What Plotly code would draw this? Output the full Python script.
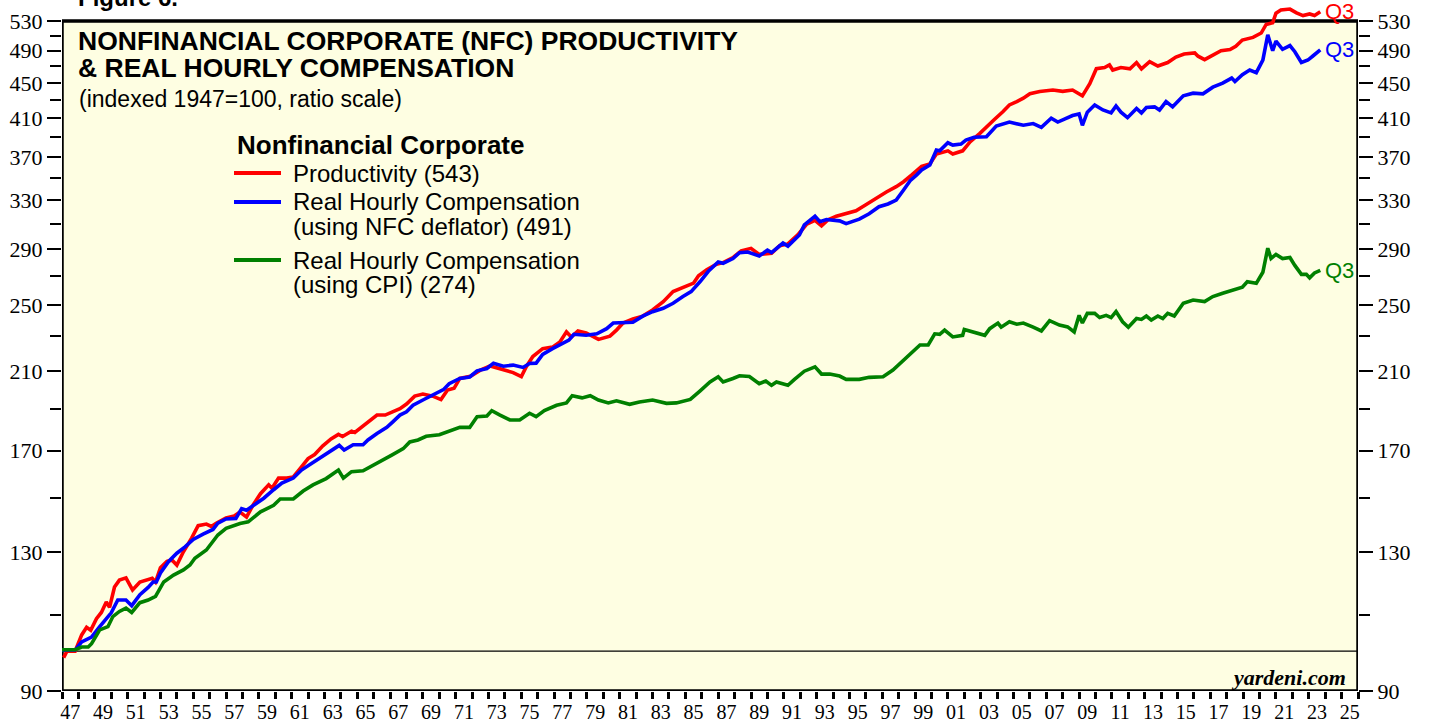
import numpy as np
import plotly.graph_objects as go

# ---------------- data (decimal year, index 1947=100) ----------------
prod_x = [1947.1, 1947.3, 1947.8, 1948.2, 1948.5, 1948.75, 1949.1, 1949.4, 1949.7, 1949.9,
          1950.2, 1950.5, 1950.9, 1951.3, 1951.75, 1952.05, 1952.5, 1952.7, 1953.0, 1953.4,
          1953.7, 1954.0, 1954.4, 1954.9, 1955.3, 1955.8, 1956.1, 1956.4, 1957.0, 1957.5,
          1957.85, 1958.25, 1958.65, 1959.1, 1959.6, 1959.8, 1960.2, 1960.7, 1961.1, 1961.5,
          1962.0, 1962.4, 1962.9, 1963.4, 1963.85, 1964.1, 1964.65, 1964.85, 1965.3, 1965.8,
          1966.2, 1966.7, 1967.2, 1967.6, 1968.0, 1968.5, 1969.0, 1969.6, 1970.1, 1970.5,
          1970.9, 1971.25, 1971.9, 1972.5, 1973.1, 1973.4, 1973.9, 1974.5, 1975.0, 1975.3,
          1975.7, 1976.3, 1976.9, 1977.35, 1977.75, 1978.05, 1978.45, 1978.95, 1979.7, 1980.4,
          1980.8, 1981.2, 1981.8, 1982.4, 1983.0, 1983.65, 1984.25, 1984.85, 1985.5, 1985.8,
          1986.3, 1986.9, 1987.3, 1987.9, 1988.4, 1989.0, 1989.5, 1990.25, 1990.75, 1991.25,
          1991.85, 1992.4, 1992.9, 1993.3, 1993.7, 1994.2, 1994.8, 1995.4, 1996.0, 1996.65,
          1997.25, 1997.85, 1998.3, 1998.8, 1999.4, 1999.9, 2000.3, 2001.0, 2001.3, 2001.9,
          2002.35, 2002.95, 2003.35, 2003.85, 2004.35, 2004.75, 2005.2, 2005.6, 2006.0, 2006.6,
          2007.4, 2008.0, 2008.6, 2009.2, 2009.65, 2010.05, 2010.55, 2010.85, 2011.05, 2011.55,
          2012.1, 2012.5, 2012.8, 2013.3, 2013.8, 2014.4, 2014.9, 2015.4, 2016.05, 2016.25,
          2016.65, 2017.25, 2017.65, 2018.2, 2018.55, 2018.95, 2019.6, 2020.1, 2020.4, 2020.8,
          2021.0, 2021.3, 2021.85, 2022.25, 2022.65, 2023.05, 2023.35, 2023.7]
prod_y = [98.3, 100.0, 100.0, 104.4, 106.5, 105.7, 109.0, 110.8, 113.9, 112.3,
          118.5, 120.7, 121.4, 117.6, 120.1, 120.7, 121.3, 120.1, 124.7, 126.8,
          127.3, 125.6, 130.1, 134.9, 139.4, 140.0, 139.1, 140.3, 142.3, 143.0,
          144.5, 142.6, 147.3, 151.7, 155.3, 153.9, 158.1, 158.1, 158.6, 162.0,
          166.5, 168.3, 172.2, 175.4, 177.5, 176.5, 179.0, 178.4, 181.1, 184.4,
          186.8, 186.8, 188.4, 190.0, 192.3, 196.4, 197.5, 196.4, 194.6, 199.6,
          200.5, 205.8, 207.0, 210.4, 212.7, 212.0, 210.4, 209.0, 206.8, 212.3,
          218.1, 222.7, 223.6, 226.6, 232.8, 229.7, 233.4, 232.2, 228.2, 230.2,
          233.9, 238.3, 240.9, 242.7, 246.7, 252.2, 259.0, 262.1, 264.9, 270.1,
          274.4, 278.4, 279.6, 283.4, 288.5, 290.4, 285.8, 286.6, 292.4, 293.8,
          300.9, 309.7, 312.8, 308.2, 313.2, 316.2, 318.5, 320.8, 325.9, 331.9,
          337.1, 341.9, 346.4, 352.7, 360.8, 363.0, 372.7, 375.9, 372.7, 375.9,
          384.9, 393.7, 399.8, 408.6, 416.9, 424.4, 428.2, 432.1, 437.2, 439.9,
          441.5, 440.0, 441.5, 434.8, 449.0, 467.1, 468.6, 471.8, 465.5, 468.6,
          467.0, 474.8, 467.0, 476.0, 470.5, 474.8, 481.7, 485.7, 487.0, 482.9,
          478.5, 484.9, 490.0, 491.4, 495.6, 504.0, 507.5, 513.4, 525.2, 527.6,
          541.0, 545.6, 547.0, 541.5, 537.7, 540.0, 537.7, 543.0]

nfc_x = [1947.0, 1947.8, 1948.2, 1948.8, 1949.3, 1949.8, 1950.0, 1950.4, 1950.9, 1951.25,
         1951.75, 1952.25, 1952.55, 1952.75, 1953.0, 1953.5, 1954.0, 1954.5, 1955.0, 1955.6,
         1956.2, 1956.5, 1957.0, 1957.6, 1957.95, 1958.25, 1958.75, 1959.3, 1959.9, 1960.4,
         1961.1, 1961.6, 1962.3, 1962.9, 1963.4, 1963.9, 1964.2, 1964.75, 1965.35, 1965.65,
         1966.2, 1966.8, 1967.1, 1967.6, 1968.0, 1968.4, 1969.0, 1969.6, 1970.25, 1970.6,
         1971.25, 1971.85, 1972.3, 1972.9, 1973.3, 1973.9, 1974.5, 1975.1, 1975.5, 1975.9,
         1976.3, 1976.9, 1977.5, 1977.9, 1978.2, 1978.95, 1979.6, 1980.2, 1980.6, 1981.2,
         1981.8, 1982.4, 1983.0, 1983.65, 1984.25, 1984.85, 1985.35, 1985.9, 1986.4, 1987.0,
         1987.3, 1987.9, 1988.3, 1988.8, 1989.5, 1990.0, 1990.25, 1990.95, 1991.25, 1991.95,
         1992.25, 1992.9, 1993.2, 1993.6, 1994.4, 1994.8, 1995.6, 1996.2, 1996.8, 1997.35,
         1997.85, 1998.3, 1998.7, 1999.1, 1999.4, 1999.9, 2000.3, 2000.5, 2001.0, 2001.3,
         2001.8, 2002.1, 2002.6, 2003.35, 2003.95, 2004.75, 2005.6, 2006.2, 2006.7, 2007.3,
         2007.7, 2008.6, 2009.0, 2009.2, 2009.5, 2009.95, 2010.45, 2010.95, 2011.25, 2011.55,
         2011.95, 2012.5, 2012.8, 2013.1, 2013.6, 2013.9, 2014.3, 2014.7, 2015.35, 2015.95,
         2016.55, 2017.15, 2017.75, 2018.3, 2018.5, 2018.95, 2019.4, 2019.8, 2020.2, 2020.5,
         2020.8, 2021.0, 2021.4, 2021.85, 2022.15, 2022.55, 2022.95, 2023.25, 2023.7]
nfc_y = [100.3, 100.3, 102.5, 103.8, 106.7, 109.6, 110.7, 114.5, 114.5, 112.8,
         116.1, 118.4, 120.1, 120.1, 123.0, 126.8, 129.6, 131.8, 134.4, 136.3,
         138.0, 140.3, 141.9, 142.1, 145.8, 145.2, 147.5, 149.9, 153.3, 156.0,
         158.1, 161.5, 164.8, 167.6, 170.0, 172.4, 170.3, 172.7, 172.7, 174.9,
         177.9, 180.8, 183.0, 186.8, 188.4, 191.7, 194.4, 196.9, 199.8, 203.0,
         205.8, 206.6, 210.0, 211.3, 214.3, 212.6, 213.2, 211.9, 214.1, 214.3,
         219.3, 222.7, 226.0, 227.8, 231.3, 230.7, 231.6, 234.8, 238.3, 238.3,
         238.8, 242.7, 245.6, 247.8, 251.1, 255.6, 259.0, 266.0, 273.3, 280.1,
         279.1, 282.7, 287.1, 287.6, 284.6, 289.0, 287.1, 294.5, 292.1, 300.9,
         309.0, 316.2, 311.6, 313.4, 312.3, 310.0, 313.7, 318.2, 324.2, 326.6,
         330.0, 338.9, 347.3, 352.7, 357.3, 362.0, 376.7, 376.0, 384.0, 381.6,
         382.6, 386.8, 389.6, 390.2, 401.3, 405.6, 402.2, 404.0, 400.0, 409.7,
         405.6, 412.7, 414.5, 402.2, 416.4, 424.4, 418.8, 415.6, 423.3, 416.4,
         410.4, 420.5, 415.6, 421.6, 422.3, 418.8, 428.2, 422.3, 434.8, 437.9,
         437.1, 444.9, 449.7, 455.7, 451.6, 459.8, 465.5, 462.3, 478.0, 511.0,
         489.9, 502.6, 491.7, 496.6, 488.6, 474.9, 478.0, 483.1, 491.0]

cpi_x = [1947.0, 1947.8, 1948.2, 1948.6, 1948.8, 1949.3, 1949.8, 1950.1, 1950.5, 1950.9,
         1951.25, 1951.75, 1952.25, 1952.7, 1953.2, 1953.8, 1954.4, 1954.8, 1955.1, 1955.8,
         1956.5, 1957.0, 1957.85, 1958.35, 1959.1, 1959.5, 1959.9, 1960.3, 1961.1, 1961.7,
         1962.3, 1963.1, 1963.85, 1964.15, 1964.65, 1965.35, 1965.95, 1966.6, 1967.1, 1967.8,
         1968.2, 1968.7, 1969.2, 1970.0, 1970.6, 1971.25, 1971.85, 1972.3, 1972.9, 1973.2,
         1973.7, 1974.3, 1974.9, 1975.5, 1975.9, 1976.4, 1977.15, 1977.75, 1978.1, 1978.7,
         1979.2, 1979.7, 1980.3, 1980.8, 1981.6, 1982.2, 1983.0, 1983.85, 1984.45, 1985.3,
         1985.9, 1986.5, 1987.0, 1987.3, 1987.9, 1988.3, 1988.9, 1989.5, 1989.9, 1990.25,
         1990.55, 1991.25, 1991.65, 1992.25, 1992.9, 1993.3, 1993.8, 1994.4, 1994.8, 1995.6,
         1996.2, 1997.05, 1997.65, 1998.3, 1998.8, 1999.3, 1999.8, 2000.2, 2000.5, 2000.8,
         2001.3, 2001.9, 2002.0, 2002.5, 2003.25, 2003.55, 2004.05, 2004.25, 2004.75, 2005.2,
         2005.6, 2006.2, 2006.7, 2007.2, 2007.8, 2008.3, 2008.7, 2009.0, 2009.2, 2009.5,
         2009.95, 2010.25, 2010.65, 2010.95, 2011.25, 2011.65, 2012.0, 2012.5, 2012.8, 2013.1,
         2013.4, 2013.8, 2014.1, 2014.4, 2014.8, 2015.35, 2015.95, 2016.65, 2017.15, 2017.75,
         2018.5, 2018.95, 2019.25, 2019.8, 2020.2, 2020.5, 2020.7, 2021.0, 2021.4, 2021.85,
         2022.15, 2022.55, 2022.85, 2023.05, 2023.35, 2023.7]
cpi_y = [100.4, 100.4, 101.1, 101.1, 102.0, 105.8, 106.7, 109.6, 111.1, 112.1,
         110.8, 113.7, 114.5, 115.6, 120.1, 122.3, 124.0, 125.6, 127.9, 130.7,
         136.0, 138.4, 140.2, 140.8, 144.6, 145.9, 147.1, 149.6, 149.6, 152.8,
         155.3, 157.9, 161.5, 158.1, 160.8, 161.2, 163.4, 165.7, 168.0, 170.9,
         174.0, 174.9, 176.6, 177.3, 178.8, 180.8, 180.8, 186.0, 186.3, 189.0,
         186.8, 184.4, 184.4, 187.7, 186.0, 189.0, 191.7, 192.9, 196.6, 195.5,
         196.6, 194.4, 192.9, 194.0, 192.2, 193.4, 194.4, 192.7, 192.9, 194.7,
         199.2, 203.9, 206.7, 203.9, 205.8, 207.3, 206.9, 203.0, 204.4, 202.1,
         203.9, 202.1, 205.3, 209.8, 212.2, 208.2, 208.2, 207.1, 205.3, 205.3,
         206.4, 206.7, 210.4, 216.1, 220.4, 224.9, 224.9, 231.6, 231.3, 233.9,
         229.7, 230.7, 234.3, 232.8, 230.7, 234.8, 238.3, 235.7, 239.1, 237.6,
         238.3, 235.7, 233.4, 239.8, 237.0, 235.9, 232.8, 243.2, 238.3, 244.5,
         244.5, 241.8, 243.2, 241.8, 245.7, 239.1, 235.7, 241.2, 240.6, 242.8,
         240.2, 242.8, 241.2, 244.5, 242.8, 251.1, 253.3, 252.2, 255.6, 257.9,
         260.1, 262.0, 265.8, 264.7, 272.6, 290.5, 282.7, 285.8, 282.7, 283.5,
         277.6, 271.1, 271.1, 268.6, 272.1, 274.0]

y_ticks = [90, 130, 170, 210, 250, 290, 330, 370, 410, 450, 490, 530]
y_minor = [110, 150, 190, 230, 270, 310, 350, 390, 430, 470, 510]
x_years = list(range(1947, 2027))
x_label_years = list(range(1947, 2026, 2))

# ---------------- styling ----------------
RED, BLUE, GREEN = "#FF0000", "#0000FF", "#008000"
BG = "#FEFEE2"
SERIF = "Liberation Serif"
SANS = "Liberation Sans"
W, H = 1429, 721
ML, MR, MT, MB = 62, 71, 0, 30
PW, PH = W - ML - MR, H - MT - MB

def px(x):
    return (x - ML) / PW

def py(y):
    return (H - MB - y) / PH

fig = go.Figure()
for xs, ys, col in [(prod_x, prod_y, RED), (nfc_x, nfc_y, BLUE), (cpi_x, cpi_y, GREEN)]:
    fig.add_trace(go.Scatter(x=xs, y=ys, mode="lines", line=dict(color=col, width=3.6),
                             hoverinfo="skip", showlegend=False))
# invisible trace to activate the right-hand axis
fig.add_trace(go.Scatter(x=[1947], y=[100], yaxis="y2", mode="markers",
                         marker=dict(opacity=0), hoverinfo="skip", showlegend=False))

yrange = [np.log10(90), np.log10(560.3)]
yax = dict(type="log", range=yrange, tickmode="array", tickvals=y_ticks,
           ticktext=[str(v) for v in y_ticks], ticks="outside", ticklen=14, tickwidth=2,
           tickcolor="black", showgrid=False, zeroline=False, showline=False,
           tickfont=dict(family=SERIF, size=22, color="black"), automargin=False,
           minor=dict(tickmode="array", tickvals=y_minor, ticks="outside", ticklen=11,
                      tickwidth=2, tickcolor="black", showgrid=False))
yax2 = dict(yax, overlaying="y", side="right")

xax = dict(range=[1947, 2026], tickmode="array",
           tickvals=[y + 0.5 for y in x_label_years],
           ticktext=[f"{y % 100:02d}" for y in x_label_years],
           ticks="outside", ticklen=3, tickcolor="rgba(0,0,0,0)",
           showgrid=False, zeroline=False, showline=False, automargin=False,
           tickfont=dict(family=SERIF, size=20, color="black"),
           minor=dict(tickmode="array", tickvals=x_years, ticks="outside", ticklen=7,
                      tickwidth=2.5, tickcolor="black", showgrid=False))

shapes = [
    dict(type="rect", xref="x", yref="y", x0=1947, x1=2026, y0=90, y1=530,
         fillcolor=BG, line=dict(width=0), layer="below"),
    dict(type="line", xref="x", yref="y", x0=1947, x1=2026, y0=100, y1=100,
         line=dict(color="black", width=1.3), layer="below"),
    dict(type="rect", xref="x", yref="y", x0=1947, x1=2026, y0=90, y1=530,
         line=dict(color="black", width=3.5), layer="below"),
]
# legend keys
for yy, col in [(173, RED), (202, BLUE), (260, GREEN)]:
    shapes.append(dict(type="line", xref="paper", yref="paper", x0=px(234), x1=px(281),
                       y0=py(yy), y1=py(yy), line=dict(color=col, width=4)))

ann = []
def txt(x, y, s, size, bold=False, family=SANS, color="black", xanchor="left",
        yanchor="middle", italic=False):
    t = s
    if bold:
        t = f"<b>{t}</b>"
    if italic:
        t = f"<i>{t}</i>"
    ann.append(dict(x=px(x), y=py(y), xref="paper", yref="paper", text=t, showarrow=False,
                    xanchor=xanchor, yanchor=yanchor,
                    font=dict(family=family, size=size, color=color)))

txt(76, -3, "Figure 6.", 24, bold=True)
txt(76, 41, "NONFINANCIAL CORPORATE (NFC) PRODUCTIVITY", 26.5, bold=True)
txt(76, 68, "&amp; REAL HOURLY COMPENSATION", 26.5, bold=True)
txt(77, 99, "(indexed 1947=100, ratio scale)", 23)
txt(235, 145, "Nonfinancial Corporate", 26, bold=True)
txt(291, 173, "Productivity (543)", 24)
txt(291, 202, "Real Hourly Compensation", 24)
txt(291, 227, "(using NFC deflator) (491)", 24)
txt(291, 260, "Real Hourly Compensation", 24)
txt(291, 284, "(using CPI) (274)", 24)
txt(1348, 677, "yardeni.com", 22, bold=True, italic=True, family=SERIF, xanchor="right")

# end-of-series labels
for xs, ys, col in [(prod_x, prod_y, RED), (nfc_x, nfc_y, BLUE), (cpi_x, cpi_y, GREEN)]:
    ann.append(dict(x=xs[-1], y=np.log10(ys[-1]), xref="x", yref="y", text="Q3",
                    showarrow=False, xanchor="left", yanchor="middle", xshift=3,
                    font=dict(family=SANS, size=22, color=col)))

fig.update_layout(
    width=W, height=H, template="none",
    margin=dict(l=ML, r=MR, t=MT, b=MB, pad=0),
    paper_bgcolor="white", plot_bgcolor="white",
    xaxis=xax, yaxis=yax, yaxis2=yax2,
    shapes=shapes, annotations=ann, showlegend=False,
)

fig.write_html("out.html", config={"displayModeBar": False},
               post_script="document.body.style.margin='0px';document.body.style.padding='0px';")
